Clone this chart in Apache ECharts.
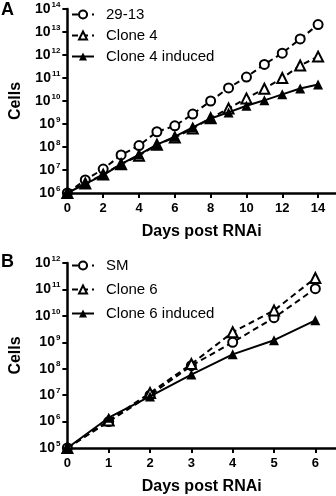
<!DOCTYPE html>
<html><head><meta charset="utf-8">
<script src="https://cdn.jsdelivr.net/npm/echarts@6/dist/echarts.min.js"></script>
<style>html,body{margin:0;padding:0;background:#fff}#c{width:336px;height:496px}</style>
</head><body><div id="c"></div>
<script>
// Panel A
const daysA = [0,1,2,3,4,5,6,7,8,9,10,11,12,13,14];
const a2913 = [1e6,3.7e6,1.1e7,4.5e7,1.15e8,4.6e8,8.3e8,2.7e9,1.0e10,3.7e10,1.1e11,3.9e11,1.2e12,5.0e12,2.1e13];
const aClone4 = [1e6,2.6e6,6.3e6,1.8e7,4.2e7,1.26e8,2.6e8,6.3e8,1.8e9,4.7e9,1.3e10,3.4e10,1.0e11,3.5e11,8.5e11];
const aClone4Ind = [1e6,2.5e6,6.0e6,1.8e7,4.7e7,1.26e8,2.8e8,7.1e8,1.74e9,3.2e9,6.2e9,1.07e10,1.95e10,3.5e10,5.2e10];
const xTicksA = [0,2,4,6,8,10,12,14];
// Panel B
const daysB = [0,1,2,3,4,5,6];
const bSM = [1e5,1.0e6,1.0e7,1.3e8,1.0e9,8.5e9,1.07e11];
const bClone6 = [1e5,1.1e6,1.2e7,1.5e8,2.4e9,1.6e10,2.7e11];
const bClone6Ind = [1e5,1.4e6,8.9e6,6.0e7,3.5e8,1.2e9,6.8e9];
const xTicksB = [0,1,2,3,4,5,6];

const FONT = '"Liberation Sans", Arial, sans-serif';
const pair = (xs, ys) => xs.map((x, i) => [x, ys[i]]);
const supLabel = v => '{b|10}{s|' + Math.round(Math.log10(v)) + '}';

function xAxis(idx, max, ticks) {
  return {
    gridIndex: idx, type: 'value', min: 0, max: max,
    name: 'Days post RNAi', nameLocation: 'middle', nameGap: 31,
    nameTextStyle: {fontFamily: FONT, fontWeight: 'bold', fontSize: 16, color: '#000'},
    axisLine: {lineStyle: {color: '#000', width: 2.5}},
    axisTick: {show: true, length: 5, lineStyle: {width: 2, color: '#000'}, customValues: ticks},
    axisLabel: {fontFamily: FONT, fontWeight: 'bold', fontSize: 13, color: '#000', margin: 9, customValues: ticks},
    splitLine: {show: false}
  };
}
function yAxis(idx, min, max) {
  return {
    gridIndex: idx, type: 'log', logBase: 10, min: min, max: max,
    name: 'Cells', nameLocation: 'middle', nameGap: 36, nameRotate: 90,
    nameTextStyle: {fontFamily: FONT, fontWeight: 'bold', fontSize: 16, color: '#000'},
    axisLine: {show: true, lineStyle: {color: '#000', width: 2.5}},
    axisTick: {show: true, length: 5, lineStyle: {width: 2, color: '#000'}},
    minorTick: {show: false},
    axisLabel: {
      margin: 7, formatter: supLabel,
      rich: {
        b: {fontFamily: FONT, fontWeight: 'bold', fontSize: 14, color: '#000'},
        s: {fontFamily: FONT, fontWeight: 'bold', fontSize: 8, color: '#000', padding: [0, 0, 9, 1]}
      }
    },
    splitLine: {show: false}
  };
}
function series(name, idx, data, kind) {
  const dashed = kind !== 'filled';
  return {
    name: name, type: 'line', xAxisIndex: idx, yAxisIndex: idx, data: data,
    symbol: kind === 'circle' ? 'circle' : 'triangle',
    symbolSize: kind === 'circle' ? 9 : 10,
    showAllSymbol: true,
    lineStyle: {color: '#000', width: 2, type: dashed ? [6, 4] : 'solid'},
    itemStyle: {color: kind === 'filled' ? '#000' : '#fff', borderColor: '#000', borderWidth: kind === 'filled' ? 0 : 2},
    z: kind === 'filled' ? 3 : 2,
    animation: false
  };
}
function legend(names, top, gap) {
  return {
    orient: 'vertical', left: 66, top: top, itemWidth: 22, itemHeight: 10, itemGap: gap,
    data: names, selectedMode: false,
    textStyle: {fontFamily: FONT, fontSize: 15, color: '#000', padding: [0, 0, 0, 7]}
  };
}

const chart = echarts.init(document.getElementById('c'), null, {renderer: 'canvas'});
chart.setOption({
  animation: false,
  backgroundColor: '#fff',
  grid: [
    {left: 57, top: 9, width: 279, height: 184},
    {left: 57, top: 263, width: 279, height: 187}
  ],
  xAxis: [xAxis(0, 15, xTicksA), xAxis(1, 6.5, xTicksB)],
  yAxis: [yAxis(0, 1e6, 1e14), yAxis(1, 1e5, 1e12)],
  legend: [
    legend(['29-13', 'Clone 4', 'Clone 4 induced'], 2, 6),
    legend(['SM', 'Clone 6', 'Clone 6 induced'], 253, 9)
  ],
  graphic: [
    {type: 'text', left: 1, top: 1, style: {text: 'A', font: 'bold 18px ' + FONT, fill: '#000'}},
    {type: 'text', left: 1, top: 253, style: {text: 'B', font: 'bold 18px ' + FONT, fill: '#000'}}
  ],
  series: [
    series('29-13', 0, pair(daysA, a2913), 'circle'),
    series('Clone 4', 0, pair(daysA, aClone4), 'triangle'),
    series('Clone 4 induced', 0, pair(daysA, aClone4Ind), 'filled'),
    series('SM', 1, pair(daysB, bSM), 'circle'),
    series('Clone 6', 1, pair(daysB, bClone6), 'triangle'),
    series('Clone 6 induced', 1, pair(daysB, bClone6Ind), 'filled')
  ]
});
</script>
</body></html>
